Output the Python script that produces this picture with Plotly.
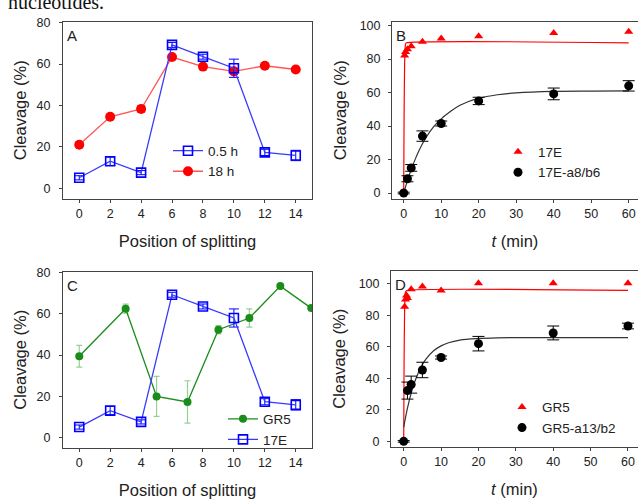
import plotly.graph_objects as go

# ---------------- data ----------------
# Panel A / C : position of splitting
pos_blue = [0, 2, 4, 6, 8, 10, 12, 14]
blue_05h = [5, 13, 7.5, 69.3, 63.6, 58, 17.3, 15.8]
blue_05h_err = [1, 2, 1, 1.2, 1.2, 4.4, 1.5, 2.5]

pos_red = [0, 2, 4, 6, 8, 10, 12, 14]
red_18h = [21, 34.5, 38.3, 63.4, 58.8, 56.5, 59.2, 57.4]
red_18h_err = [1, 1, 1.5, 1, 1, 1.5, 1, 1]

pos_green = [0, 3, 5, 7, 9, 11, 13, 15]
green_gr5 = [39.4, 62.5, 19.9, 17.2, 52.3, 58, 73.5, 62.8]
green_gr5_err = [5.3, 2.2, 9.7, 10.3, 2, 4.4, 0.8, 0.8]

# Panel B : 17E kinetics
t_b_red = [0.25, 0.5, 1, 2, 5, 10, 20, 40, 60]
y_b_red = [82.2, 84.2, 85.9, 87.7, 90.4, 92.3, 93.6, 95.6, 96.3]
t_b_black = [0, 1, 2, 5, 10, 20, 40, 60]
y_b_black = [0, 8.5, 15, 34, 41.5, 55, 59.2, 64]
e_b_black = [0.5, 1.8, 2, 3.1, 1.5, 2.2, 3.5, 3.1]
# fitted curves
fit_b_red_t = [0, 0.1, 0.25, 0.45, 0.7, 60]
fit_b_red_y = [0, 45, 78, 88.5, 89.7, 89.7]
fit_b_black_t = [0, 1, 2, 3, 4, 5, 6, 8, 10, 12, 15, 20, 25, 30, 40, 50, 60]
fit_b_black_y = [0, 7.4, 14.0, 19.8, 24.9, 29.4, 33.3, 39.6, 44.3, 47.9, 52.4,
                 56.6, 58.7, 59.8, 60.7, 60.9, 61.0]

# Panel D : GR5 kinetics
t_d_red = [0.25, 0.5, 0.75, 1, 2, 5, 10, 20, 40, 60]
y_d_red = [85.5, 90, 92.5, 91, 96.5, 98.3, 95.8, 100.3, 100.3, 100.3]
t_d_black = [0, 1, 2, 5, 10, 20, 40, 60]
y_d_black = [0, 32.2, 36, 45.3, 53.2, 62, 68.8, 73.2]
e_d_black = [0.5, 5.4, 5.4, 4.9, 1, 4.6, 4.4, 1.8]
fit_d_red_t = [0, 0.1, 0.25, 0.45, 0.8, 60]
fit_d_red_y = [0, 50, 85, 94.5, 95.8, 95.8]
fit_d_black_t = [0, 1, 2, 3, 4, 5, 6, 8, 10, 12, 15, 20, 25, 30, 40, 60]
fit_d_black_y = [9, 21.1, 30.6, 38.1, 44.0, 48.7, 52.3, 57.5, 60.6, 62.6, 64.3,
                 65.3, 65.7, 65.8, 65.8, 65.8]

x_ticks_pos = [0, 2, 4, 6, 8, 10, 12, 14]
x_ticks_t = [0, 10, 20, 30, 40, 50, 60]

# ---------------- style ----------------
FONT = "Liberation Sans, Arial, sans-serif"
BLUE = "#0000ff"
BLUE_LINE = "#3a3aff"
RED = "#ff0000"
RED_LINE = "#ff5555"
GREEN = "#1a8c1a"
GREEN_ERR = "rgba(60,170,60,0.55)"
AX = "#444444"
TXT = "#222222"

fig = go.Figure()

# ----- Panel A -----
fig.add_trace(go.Scatter(
    x=pos_red, y=red_18h, mode="lines+markers", name="18 h",
    line=dict(color=RED_LINE, width=1.3),
    marker=dict(color=RED, size=10, symbol="circle"),
    error_y=dict(type="data", array=red_18h_err, color=RED, width=4, thickness=1),
    xaxis="x", yaxis="y", legend="legend", legendrank=2))
fig.add_trace(go.Scatter(
    x=pos_blue, y=blue_05h, mode="lines+markers", name="0.5 h",
    line=dict(color=BLUE_LINE, width=1.3),
    marker=dict(color=BLUE, size=9, symbol="square-open", line=dict(width=1.6, color=BLUE)),
    error_y=dict(type="data", array=blue_05h_err, color=BLUE, width=5, thickness=1),
    xaxis="x", yaxis="y", legend="legend", legendrank=1))

# ----- Panel B -----
fig.add_trace(go.Scatter(
    x=fit_b_red_t, y=fit_b_red_y, mode="lines", showlegend=False,
    line=dict(color=RED, width=1.2, shape="spline", smoothing=0.4),
    xaxis="x2", yaxis="y2", hoverinfo="skip"))
fig.add_trace(go.Scatter(
    x=fit_b_black_t, y=fit_b_black_y, mode="lines", showlegend=False,
    line=dict(color="#333333", width=1.2, shape="spline"),
    xaxis="x2", yaxis="y2", hoverinfo="skip"))
fig.add_trace(go.Scatter(
    x=t_b_red, y=y_b_red, mode="markers", name="17E",
    marker=dict(color=RED, size=8, symbol="triangle-up"),
    xaxis="x2", yaxis="y2", legend="legend2"))
fig.add_trace(go.Scatter(
    x=t_b_black, y=y_b_black, mode="markers", name="17E-a8/b6",
    marker=dict(color="#000000", size=9, symbol="circle"),
    error_y=dict(type="data", array=e_b_black, color="#000000", width=6, thickness=1),
    xaxis="x2", yaxis="y2", legend="legend2"))

# ----- Panel C -----
fig.add_trace(go.Scatter(
    x=pos_green, y=green_gr5, mode="lines+markers", name="GR5",
    line=dict(color=GREEN, width=1.3),
    marker=dict(color=GREEN, size=8, symbol="circle"),
    error_y=dict(type="data", array=green_gr5_err, color=GREEN_ERR, width=3, thickness=1.2),
    xaxis="x3", yaxis="y3", legend="legend3"))
fig.add_trace(go.Scatter(
    x=pos_blue, y=blue_05h, mode="lines+markers", name="17E",
    line=dict(color=BLUE_LINE, width=1.3),
    marker=dict(color=BLUE, size=9, symbol="square-open", line=dict(width=1.6, color=BLUE)),
    error_y=dict(type="data", array=blue_05h_err, color=BLUE, width=5, thickness=1),
    xaxis="x3", yaxis="y3", legend="legend3"))

# ----- Panel D -----
fig.add_trace(go.Scatter(
    x=fit_d_red_t, y=fit_d_red_y, mode="lines", showlegend=False,
    line=dict(color=RED, width=1.2, shape="spline", smoothing=0.4),
    xaxis="x4", yaxis="y4", hoverinfo="skip"))
fig.add_trace(go.Scatter(
    x=fit_d_black_t, y=fit_d_black_y, mode="lines", showlegend=False,
    line=dict(color="#333333", width=1.2, shape="spline"),
    xaxis="x4", yaxis="y4", hoverinfo="skip"))
fig.add_trace(go.Scatter(
    x=t_d_red, y=y_d_red, mode="markers", name="GR5",
    marker=dict(color=RED, size=8, symbol="triangle-up"),
    xaxis="x4", yaxis="y4", legend="legend4"))
fig.add_trace(go.Scatter(
    x=t_d_black, y=y_d_black, mode="markers", name="GR5-a13/b2",
    marker=dict(color="#000000", size=9, symbol="circle"),
    error_y=dict(type="data", array=e_d_black, color="#000000", width=6, thickness=1),
    xaxis="x4", yaxis="y4", legend="legend4"))

W, H = 638, 502


def px_x(p):
    return p / W


def px_y(p):
    return 1 - p / H


def xax(dom, rng, ticks, title, anchor, mirror):
    return dict(domain=dom, range=rng, tickvals=ticks, anchor=anchor,
                showline=True, linecolor=AX, linewidth=1, mirror=mirror,
                ticks="outside", ticklen=3, tickcolor=AX, showgrid=False,
                zeroline=False, tickfont=dict(family=FONT, size=12.5, color=TXT),
                ticklabelstandoff=0,
                title=dict(text=title, font=dict(family=FONT, size=16.5, color=TXT),
                           standoff=15))


def yax(dom, rng, ticks, anchor, mirror, standoff_lbl, title_standoff):
    return dict(domain=dom, range=rng, tickvals=ticks, anchor=anchor,
                showline=True, linecolor=AX, linewidth=1, mirror=mirror,
                ticks="outside", ticklen=3, tickcolor=AX, showgrid=False,
                zeroline=False, tickfont=dict(family=FONT, size=12.5, color=TXT),
                ticklabelstandoff=standoff_lbl,
                title=dict(text="Cleavage (%)", font=dict(family=FONT, size=16.5, color=TXT),
                           standoff=title_standoff))


domA_x = [px_x(63), px_x(312)]
domB_x = [px_x(392), 1.0]
domC_x = [px_x(63), px_x(312)]
domD_x = [px_x(391), 1.0]
domTop_y = [px_y(196), px_y(16)]
domC_y = [px_y(449), px_y(270)]
domD_y = [px_y(448), px_y(269)]

legend_common = dict(bgcolor="rgba(0,0,0,0)", borderwidth=0,
                     font=dict(family=FONT, size=13.5, color=TXT),
                     xanchor="left", yanchor="top", tracegroupgap=0)

fig.update_layout(
    width=W, height=H,
    margin=dict(l=0, r=0, t=0, b=0),
    paper_bgcolor="white", plot_bgcolor="white",
    font=dict(family=FONT, color=TXT),
    xaxis=xax(domA_x, [-1.05, 15.05], x_ticks_pos, "Position of splitting", "y", True),
    yaxis=yax(domTop_y, [-5.2, 80.5], [0, 20, 40, 60, 80], "x", True, 6, 5),
    xaxis2=xax(domB_x, [-3.12, 62.48], x_ticks_t, "<i>t</i> (min)", "y2", True),
    yaxis2=yax(domTop_y, [-3.5, 102.3], [0, 20, 40, 60, 80, 100], "x2", False, 5, 8),
    xaxis3=xax(domC_x, [-1.05, 15.05], x_ticks_pos, "Position of splitting", "y3", True),
    yaxis3=yax(domC_y, [-5.1, 80.5], [0, 20, 40, 60, 80], "x3", True, 6, 5),
    xaxis4=xax(domD_x, [-3.4, 62.68], x_ticks_t, "<i>t</i> (min)", "y4", True),
    yaxis4=yax(domD_y, [-3.5, 108.3], [0, 20, 40, 60, 80, 100], "x4", False, 5, 8),
    legend=dict(x=px_x(168), y=px_y(131.5), **legend_common),
    legend2=dict(x=px_x(498), y=px_y(132.5), **legend_common),
    legend3=dict(x=px_x(223), y=px_y(404), **legend_common),
    legend4=dict(x=px_x(502), y=px_y(392), **legend_common),
    showlegend=True,
)

# panel letters
for ax_id, letter in [("x", "A"), ("x2", "B"), ("x3", "C"), ("x4", "D")]:
    yid = "y" + ax_id[1:]
    fig.add_annotation(text=letter, xref=f"{ax_id} domain", yref=f"{yid} domain",
                       x=0, y=1, xanchor="left", yanchor="top", xshift=2, yshift=-3,
                       showarrow=False, font=dict(family=FONT, size=15, color=TXT))

# cropped caption text at the very top
fig.add_annotation(text="nucleotides.", xref="paper", yref="paper", x=px_x(6), y=1,
                   xanchor="left", yanchor="bottom", yshift=-9, showarrow=False,
                   font=dict(family="Liberation Serif, Times New Roman, serif", size=20,
                             color="#111111"))

fig.write_html(
    "out.html",
    config={"displayModeBar": False},
    post_script="document.body.style.margin='0px';document.body.style.overflow='hidden';",
)
